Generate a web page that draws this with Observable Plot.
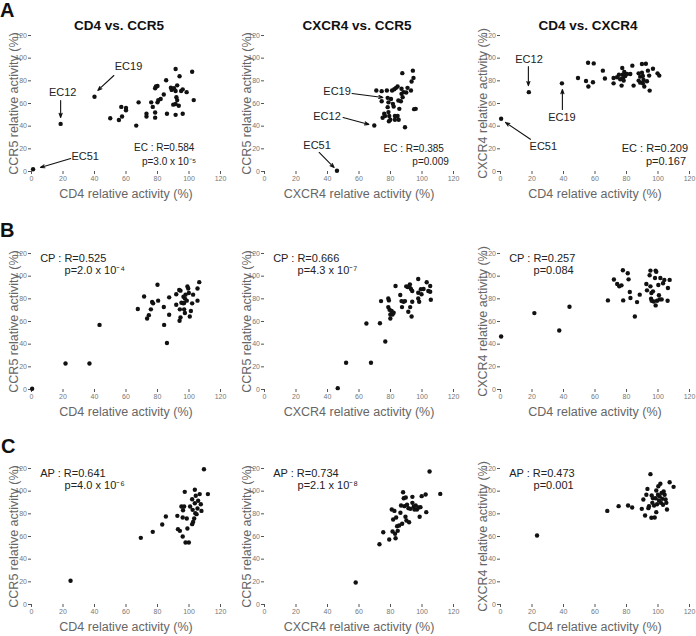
<!DOCTYPE html>
<html><head><meta charset="utf-8">
<script src="https://cdn.jsdelivr.net/npm/d3@7"></script>
<script src="https://cdn.jsdelivr.net/npm/@observablehq/plot@0.6"></script>
<style>
body{margin:0;background:#fff;}
#root{position:relative;width:696px;height:636px;overflow:hidden;font-family:"Liberation Sans",Arial,sans-serif;}
.abs{position:absolute;white-space:nowrap;line-height:1;color:#111;}
</style></head><body><div id="root"></div><script>
// ---- labels ----
const tickValues = [0, 20, 40, 60, 80, 100, 120];
const panelLetters = ["A", "B", "C"];
const columnTitles = ["CD4 vs. CCR5", "CXCR4 vs. CCR5", "CD4 vs. CXCR4"];
const xLabels = ["CD4 relative activity (%)", "CXCR4 relative activity (%)", "CD4 relative activity (%)"];
const yLabels = ["CCR5 relative activity (%)", "CCR5 relative activity (%)", "CXCR4 relative activity (%)"];
const statsLines = [
  [["EC : R=0.584", "p=3.0 x 10⁻⁵"], ["EC : R=0.385", "p=0.009"], ["EC : R=0.209", "p=0.167"]],
  [["CP : R=0.525", "p=2.0 x 10⁻⁴"], ["CP : R=0.666", "p=4.3 x 10⁻⁷"], ["CP : R=0.257", "p=0.084"]],
  [["AP : R=0.641", "p=4.0 x 10⁻⁶"], ["AP : R=0.734", "p=2.1 x 10⁻⁸"], ["AP : R=0.473", "p=0.001"]]
];

// ---- data: [x, y] in % ----
const ecCd4Ccr5 = [[1,2],[18.5,42],[40,66],[50,47],[55.5,45.5],[57,57],[57.5,48.5],[60,56],[60,54],[68,61],[66.5,40.5],[73,51],[73,48.5],[76,61],[77,57],[78.5,52],[78.5,47.5],[78.5,73.5],[79,75],[80,75.5],[80,61],[80.5,63],[82,64],[84,68],[85.5,80.5],[86,51],[88.5,74],[89,72],[90,59],[90.5,73.5],[91.5,71],[91.5,90.5],[91.5,50],[92.5,76],[92,65.5],[92.5,63],[91.5,59.5],[94,84],[93.5,58],[95,71],[96,72.5],[96,51],[98.5,70],[102,88],[103,63]];
const ecCxcr4Ccr5 = [[46,0.6],[69.7,40.6],[71,71.5],[74.4,70.9],[74.4,62],[75,47.4],[76,50.9],[76.5,49],[77.7,71.5],[78.2,65],[78.7,61],[78.2,56.8],[78.7,52.4],[79.2,49],[79.9,45.6],[79,44.4],[80.3,64],[81,71.5],[82,57.4],[81.5,59.7],[82.4,72.6],[82.8,49],[82.8,45.6],[83.5,73.8],[84.5,75],[84.5,49],[85,62.6],[85.2,45.6],[85.6,55.3],[86.6,62],[87,73],[87,68.5],[87.5,86.8],[87.7,65.6],[88.3,70],[89.2,39],[90,69.7],[90.8,73.8],[93,71.5],[93.4,79.4],[94.6,82.6],[94.2,89],[95,55],[96,55.3]];
const ecCd4Cxcr4 = [[0.4,46.5],[18,70],[39,77.8],[49.2,82.5],[54.3,79.9],[55.6,96],[55.8,75],[58.7,78.7],[59.2,95.4],[65,89],[66.3,82],[71.8,82.5],[71.8,77.8],[74,83.1],[75.2,85.4],[76,81.4],[76.9,75.8],[77.5,85.4],[77.3,91.3],[77.7,82],[78.2,80.2],[78.6,87.8],[79.2,84.2],[80.3,86],[82.4,86],[83.7,93.4],[84.5,75.8],[87.7,86.6],[87.7,80.2],[88.7,78.4],[88.7,83.7],[89.8,94.8],[89.8,87.2],[90.4,84.3],[90.4,77.8],[90.8,80.8],[91.3,75],[92.3,95.1],[93,79.6],[93.6,89],[94.4,84.6],[94.7,71.4],[96.8,90.7],[99.7,86.6],[100.8,84.6]];
const cpCd4Ccr5 = [[0.4,0.6],[21.6,22.9],[36.8,22.9],[43.2,57],[67.5,71],[71.5,82],[73.4,62.7],[74.5,65.6],[75.8,70.7],[76.6,77.2],[77.2,76],[80,92.4],[80.4,78.4],[84,72.8],[84.2,57],[86,41],[87.4,81.3],[87.4,66],[91.9,84],[91.9,74.8],[93.8,87.8],[94,60.6],[94.2,70.7],[94.6,63.6],[94.6,87.2],[95.2,76.6],[96.3,76],[96.5,81.9],[96.9,70.7],[96.9,76.3],[97.4,80.2],[97.4,67.5],[97.8,83.7],[98.6,78.4],[99,90.9],[99.5,89.1],[99.9,85.2],[100.5,64.4],[101.2,69.2],[102,76],[102.6,83.7],[105.4,89.1],[105.4,78.4],[106.5,94.7]];
const cpCxcr4Ccr5 = [[46.5,1.2],[51.8,23.6],[67.6,23.6],[64.7,58.2],[73.3,58.5],[76.7,42.3],[74,78],[78.6,80.4],[79,78.6],[78.6,72.7],[79.4,70.4],[79.9,66.2],[79.9,62.7],[80.7,69.2],[81.3,66.2],[82,67.7],[83.2,91.3],[86.2,83.4],[87,78],[87.3,72.7],[88.3,77.4],[89.2,78],[90,91],[90.9,90.4],[91.3,68.6],[92.1,90.4],[92.3,92.8],[92.5,72.7],[93,88.7],[93.4,64.4],[93.8,77.4],[93.8,86.9],[97.6,97.5],[97.6,85.4],[97.6,80.4],[98.2,77.4],[99.3,88.4],[99.7,84],[101,88.7],[103,94.6],[104,86.9],[105.2,91.3],[105.2,86.3],[105.6,79.2]];
const cpCd4Cxcr4 = [[0.4,46.7],[21.5,67.4],[37.3,52],[43.8,73],[68.2,78.6],[72,97],[74.1,93.1],[75.4,91],[76.8,91.9],[77.7,105.2],[77.9,78.6],[80.8,102.6],[81.3,97.2],[82.1,86],[82.5,80.7],[85.3,64.4],[86.7,77.1],[88.4,83.7],[92.6,93.1],[93,87.5],[94.7,100.8],[95.2,104.9],[95.2,91],[95.8,85.1],[95.6,80.1],[96,78.3],[96.8,86.6],[97.3,77.7],[98.1,98.4],[98.5,104.9],[98.9,103.8],[99.4,78.3],[98.5,74.2],[100.2,92.2],[100.6,83.1],[101,79.5],[101.5,98.4],[102.3,79.5],[103.2,93.7],[104,96.7],[106.3,89.6],[106.1,78.3],[107.4,96.7]];
const apCd4Ccr5 = [[24.8,20.9],[69.4,58.8],[77,64.1],[83,70.6],[85.3,77.6],[92.6,78.2],[93,66.5],[94.2,65],[95.2,86.5],[96,76.8],[96,60],[96.9,86.5],[97.3,99.4],[97.8,54.7],[98.6,75.9],[99,67],[99.9,54.7],[100.7,86.5],[102,70.9],[102.6,72.9],[103.3,75.9],[103.7,101.2],[103.7,89.4],[104.3,95.9],[104.8,79.7],[105.4,84.7],[105.8,91.5],[106.8,97.4],[107.5,88.5],[107.9,82.6],[109.5,119.4],[112,97.4],[102,92.9],[102.3,83.5],[104,80.6],[96.2,83.2]];
const apCxcr4Ccr5 = [[57.9,19.4],[73,53.2],[75.4,63.8],[79.2,57.4],[80.8,83.8],[81.3,64.4],[81.7,75],[82.5,82.6],[82.9,62.4],[83.2,58.5],[83.6,76.8],[84.2,69.1],[84.6,65],[85.5,69.7],[86.3,80.9],[86.7,87.4],[87.4,71.2],[88,99.1],[88.4,93.8],[88.8,86.8],[89.5,77.4],[89.7,94.4],[90.1,74.1],[90.5,88],[91.4,85],[91.8,72.6],[92.6,84.4],[93.9,95],[93.9,89.7],[94.7,86.2],[95.2,83.8],[96,87.4],[96.8,83.8],[97.9,85.6],[98.5,77.4],[99,85.9],[99.8,95.6],[102.3,97.1],[102.7,81.5],[104.8,117.4],[111.6,97.6]];
const apCd4Cxcr4 = [[23.2,60.9],[67.8,82.6],[75,86.8],[81,87.4],[83.6,85.6],[89.7,84.4],[90.7,92.6],[91.8,78.5],[92.6,96.8],[93.3,102],[93.9,85],[94.3,86.8],[95.2,115],[96,96.2],[95.8,76.5],[96.8,93.8],[97.5,87.4],[97.9,76.8],[98.5,93.8],[98.9,100.6],[99.4,88.5],[100,96.8],[100.6,91.8],[101,95.6],[101.5,106.5],[101.9,89.7],[102.3,98.5],[102.7,93.2],[103.2,88],[103.6,99.7],[104.2,96.8],[104.8,92.6],[105.3,89.7],[105.7,83.8],[107.4,107.9],[109.9,103.8],[96.4,89.7],[100.2,104.4],[98.9,81.5]];
const panelData = [
  [ecCd4Ccr5, ecCxcr4Ccr5, ecCd4Cxcr4],
  [cpCd4Ccr5, cpCxcr4Ccr5, cpCd4Cxcr4],
  [apCd4Ccr5, apCxcr4Ccr5, apCd4Cxcr4]
];

// ---- EC annotations (data units) ----
const ecNames = ["EC19", "EC12", "EC51"];
const ecLabelPos = [
  [[61.6, 92.7], [19.8, 69.3], [34.1, 13.2]],
  [[46.1, 70.6], [39.7, 48.5], [33.4, 23.4]],
  [[39.0, 47.3], [18.1, 98.7], [27.2, 22.2]]
];
const ecArrows = [
  [[52.3, 84.7, 42.1, 71.5], [18.5, 62.7, 18.5, 47.7], [24.9, 11.5, 5.7, 3.5]],
  [[55.6, 68.8, 75.2, 65.3], [49.9, 47.7, 66.3, 41.5], [34.7, 16.8, 44.2, 3.5]],
  [[39.3, 54.7, 39.3, 72.3], [17.7, 92.5, 17.7, 75.8], [19.0, 28.4, 3.2, 43.3]]
];

// ---- layout ----
const colX0 = [30.5, 263.5, 500];
const rowTop = [35, 252.5, 468];
const innerW = 189, innerH = 136;
const mL = 32, mR = 8, mT = 36, mB = 34;
const statFont = [[10, 10, 11], [11, 11, 11], [11, 11, 11]];
const font = "Liberation Sans, Arial, sans-serif";
const root = document.getElementById("root");

function addText(txt, left, top, size, weight, anchorCenter) {
  const d = document.createElement("div");
  d.className = "abs";
  d.textContent = txt;
  d.style.left = left + "px";
  d.style.top = top + "px";
  d.style.fontSize = size + "px";
  d.style.fontWeight = weight;
  if (anchorCenter) d.style.transform = "translateX(-50%)";
  root.appendChild(d);
}

// panel letters
const letterTop = [0, 220, 436];
panelLetters.forEach((L, i) => addText(L, i === 2 ? 1 : 0, letterTop[i], 20, "bold", false));
// column titles
const titleCenters = [119, 357, 588];
columnTitles.forEach((t, j) => addText(t, titleCenters[j], 30 - 0.8465 * 13.5, 13.5, "bold", true));

const pxPerUnitX = innerW / 120, pxPerUnitY = innerH / 120;

for (let r = 0; r < 3; r++) {
  for (let c = 0; c < 3; c++) {
    const data = panelData[r][c];
    const [s1, s2] = statsLines[r][c];
    const fs = statFont[r][c];
    const marks = [
      Plot.axisX({ticks: tickValues, tickSize: 3, tickPadding: 1.5, line: true, stroke: "#555", fill: "#777", fontSize: 7, label: null}),
      Plot.axisY({ticks: tickValues, tickSize: 3, tickPadding: 1.5, line: true, stroke: "#555", fill: "#777", fontSize: 7, label: null}),
      Plot.dot(data, {x: d => d[0], y: d => d[1], r: 2.2, fill: "#111", stroke: null}),
      Plot.text([xLabels[c]], {text: d => d, x: 60, y: -22 / pxPerUnitY, fontSize: 12.5, fill: "#666"}),
      Plot.text([yLabels[c]], {text: d => d, x: -18 / pxPerUnitX, y: 60, rotate: -90, fontSize: 12.5, fill: "#666"})
    ];
    if (r === 0) {
      const stats = [
        {t: s1, x: [103.4, 113.9, 119.1][c], y: [20.7, 20.3, 20][c]},
        {t: s2, x: [104.5, 117, 117.8][c], y: [8.4, 8.8, 9][c]}
      ];
      marks.push(Plot.text(stats, {x: "x", y: "y", text: "t", textAnchor: "end", fontSize: fs, fill: "#222"}));
      const labels = ecNames.map((n, k) => ({t: n, x: ecLabelPos[c][k][0], y: ecLabelPos[c][k][1]}));
      marks.push(Plot.text(labels, {x: "x", y: "y", text: "t", fontSize: 11, fill: "#222"}));
      const arrows = ecArrows[c].map(a => ({x1: a[0], y1: a[1], x2: a[2], y2: a[3]}));
      marks.push(Plot.arrow(arrows, {x1: "x1", y1: "y1", x2: "x2", y2: "y2", stroke: "#111", strokeWidth: 1.1, headLength: 6, headAngle: 40}));
    } else {
      const stats = [
        {t: s1, x: 5.5, y: 115.5},
        {t: s2, x: 21, y: 105}
      ];
      marks.push(Plot.text(stats, {x: "x", y: "y", text: "t", textAnchor: "start", fontSize: fs, fill: "#222"}));
    }
    const svg = Plot.plot({
      width: mL + innerW + mR,
      height: mT + innerH + mB,
      marginLeft: mL, marginRight: mR, marginTop: mT, marginBottom: mB,
      x: {domain: [0, 120]},
      y: {domain: [0, 120]},
      style: {background: "transparent", fontFamily: font, overflow: "visible"},
      marks
    });
    svg.style.position = "absolute";
    svg.style.left = (colX0[c] - mL) + "px";
    svg.style.top = (rowTop[r] - mT) + "px";
    root.appendChild(svg);
  }
}
</script></body></html>
